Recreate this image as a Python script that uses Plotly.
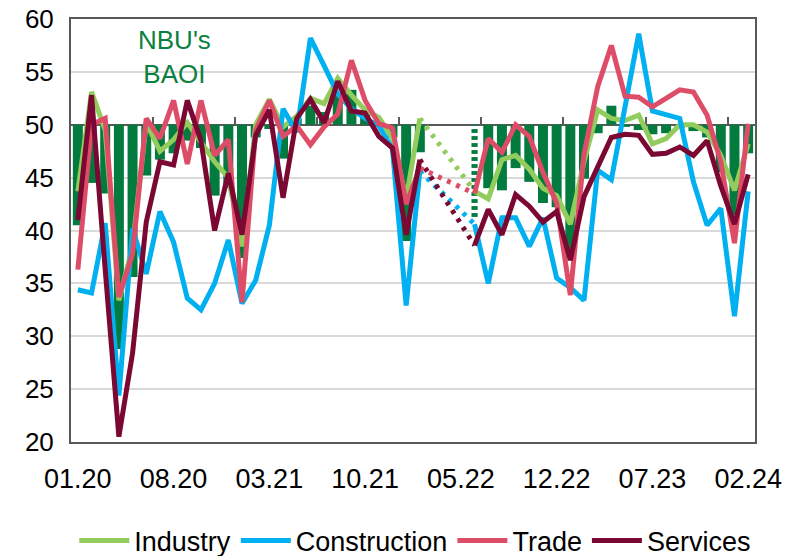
import plotly.graph_objects as go

# Monthly categories 01.20 .. 02.24
months = [f"{m:02d}.{y}" for y in range(20, 25) for m in range(1, 13)][:50]
tick_labels = ["01.20", "08.20", "03.21", "10.21", "05.22", "12.22", "07.23", "02.24"]

industry = [43.7, 53.1, 49.5, 33.4, 38.5, 50.2, 47.5, 48.6, 50.2, 48.4,
            46.5, 45.0, 38.5, 50.0, 52.4, 49.8, 50.8, 52.5, 52.0, 54.4,
            52.8, 51.4, 50.7, 48.7, 43.0, 50.6, None, None, None, 43.7,
            43.0, 46.7, 47.1, 45.8, 44.0, 43.3, 40.6, 46.5, 51.4, 50.6,
            50.4, 50.9, 48.2, 48.7, 50.0, 50.0, 49.3, 47.1, 43.8, 48.2]
construction = [34.4, 34.1, 40.7, 24.4, 40.2, 35.9, 41.8, 38.9, 33.6, 32.5,
                35.0, 39.1, 33.1, 35.3, 40.5, 51.5, 49.3, 58.2, 55.6, 52.9,
                51.5, 50.6, 49.9, 47.7, 32.9, 45.6, None, None, None, 40.6,
                35.0, 41.2, 41.2, 38.5, 41.2, 35.5, 34.6, 33.4, 45.7, 44.8,
                52.0, 58.6, 51.3, 51.0, 50.6, 44.6, 40.5, 42.1, 31.9, 43.7]
trade = [36.3, 50.0, 50.6, 33.7, 37.8, 50.6, 48.7, 52.3, 46.3, 52.3,
         47.1, 48.6, 33.2, 49.5, 52.3, 48.9, 49.9, 48.1, 49.8, 51.0,
         56.1, 52.3, 50.1, 49.7, 42.5, 45.9, None, None, None, 43.5,
         48.7, 47.4, 50.0, 48.9, 45.5, 42.6, 33.9, 47.2, 53.6, 57.5,
         52.7, 52.6, 51.7, 52.5, 53.3, 53.1, 50.9, 46.5, 38.8, 50.1]
services = [41.0, 52.8, 36.3, 20.5, 28.4, 40.8, 46.5, 46.2, 52.3, 48.5,
            40.0, 45.4, 39.6, 49.0, 51.4, 43.1, 50.6, 52.4, 50.2, 54.1,
            51.3, 51.1, 48.9, 47.8, 39.6, 46.7, None, None, None, 38.6,
            42.0, 39.6, 43.4, 42.3, 40.8, 41.8, 37.2, 43.2, 45.9, 48.8,
            49.1, 49.0, 47.2, 47.3, 47.9, 47.1, 48.5, 44.2, 40.6, 45.3]
baoi = [40.5, 44.5, 43.5, 28.8, 35.6, 45.2, 46.7, 47.3, 48.5, 47.8,
        43.3, 44.0, 37.4, 48.8, 49.6, 46.8, 50.6, 51.8, 51.2, 53.0,
        53.3, 51.2, 50.4, 48.8, 39.0, 47.4, None, None, None, 41.2,
        44.0, 43.8, 45.9, 44.6, 42.6, 42.2, 38.0, 44.9, 49.2, 51.8,
        49.8, 49.5, 49.1, 49.2, 49.7, 49.4, 48.8, 45.5, 41.5, 47.3]

base_level = 50
gap_before = "02.22"   # last month before the survey gap
gap_after = "06.22"    # first month after the gap (hatched BAOI bar)

C_BAR = "#037A3E"
C_IND = "#92CC5C"
C_CON = "#00B0F0"
C_TRA = "#DE4D67"
C_SER = "#7A0833"
AX = "#595959"
FONT = "Liberation Sans, Arial, sans-serif"

fig = go.Figure()

# BAOI bars from the 50 line
solid_x, solid_len = [], []
for m, v in zip(months, baoi):
    if v is not None and m != gap_after:
        solid_x.append(m)
        solid_len.append(v - base_level)
fig.add_trace(go.Bar(x=solid_x, y=solid_len, base=base_level, marker_color=C_BAR,
                     marker_line_width=0, width=0.73, showlegend=False, hoverinfo="skip"))
ia = months.index(gap_after)
fig.add_trace(go.Bar(x=[gap_after], y=[baoi[ia] - base_level], base=base_level,
                     marker=dict(color=C_BAR, line_width=0,
                                 pattern=dict(shape="-", fgcolor="white", fgopacity=1,
                                              size=7, solidity=0.45)),
                     width=0.45, showlegend=False, hoverinfo="skip"))

ib = months.index(gap_before)
series = [("Industry", industry, C_IND), ("Construction", construction, C_CON),
          ("Trade", trade, C_TRA), ("Services", services, C_SER)]
# dotted connectors across the gap
for name, vals, col in series:
    fig.add_trace(go.Scatter(x=[gap_before, gap_after], y=[vals[ib], vals[ia]],
                             mode="lines", xaxis="x2",
                             line=dict(color=col, width=5, dash="4px,6px"),
                             showlegend=False, hoverinfo="skip"))
for name, vals, col in series:
    fig.add_trace(go.Scatter(x=months, y=vals, name=name, mode="lines", xaxis="x2",
                             line=dict(color=col, width=5), connectgaps=False))

fig.update_layout(
    width=788, height=556,
    margin=dict(l=71, r=33, t=19, b=114, autoexpand=False),
    paper_bgcolor="white", plot_bgcolor="white",
    barmode="overlay",
    font=dict(family=FONT, size=28, color="black"),
    xaxis=dict(type="category", categoryorder="array", categoryarray=months,
               range=[-0.5, 49.5], tickmode="array", tickvals=tick_labels,
               ticktext=tick_labels, ticks="", showgrid=False, zeroline=False,
               showline=True, mirror=True, linecolor=AX, linewidth=2,
               automargin=False, ticklabelstandoff=12, ticklabeloverflow="allow",
               tickfont=dict(family=FONT, size=27)),
    xaxis2=dict(type="category", categoryorder="array", categoryarray=months,
                overlaying="x", matches="x", anchor="free", position=0.75,
                showline=True, linecolor=AX, linewidth=2, ticks="inside",
                ticklen=7, tickwidth=2, tickcolor=AX, tickson="boundaries",
                tickmode="linear", tick0=0, dtick=6, showticklabels=False,
                showgrid=False, zeroline=False, layer="below traces", automargin=False),
    yaxis=dict(range=[20, 60], dtick=5, tick0=20, showgrid=True, gridcolor="#D9D9D9",
               gridwidth=1.5, zeroline=False, showline=True, mirror=True,
               linecolor=AX, linewidth=2, ticks="", ticklabelstandoff=10,
               automargin=False, ticklabeloverflow="allow",
               tickfont=dict(family=FONT, size=26)),
    legend=dict(orientation="h", xref="container", yref="container",
                x=0.527, xanchor="center", y=0.027, yanchor="middle",
                font=dict(family=FONT, size=27), bgcolor="rgba(0,0,0,0)",
                traceorder="normal", itemwidth=50),
    annotations=[dict(text="NBU's<br>BAOI", xref="paper", yref="paper", x=0.152, y=0.911,
                      xanchor="center", yanchor="middle", showarrow=False,
                      font=dict(family=FONT, size=26, color="#0B8040"))],
)

# remove the default 8px page margin so the 788x556 figure fills the window exactly
fig.write_html("out.html", config={"displayModeBar": False},
               post_script="document.body.style.margin='0';")
